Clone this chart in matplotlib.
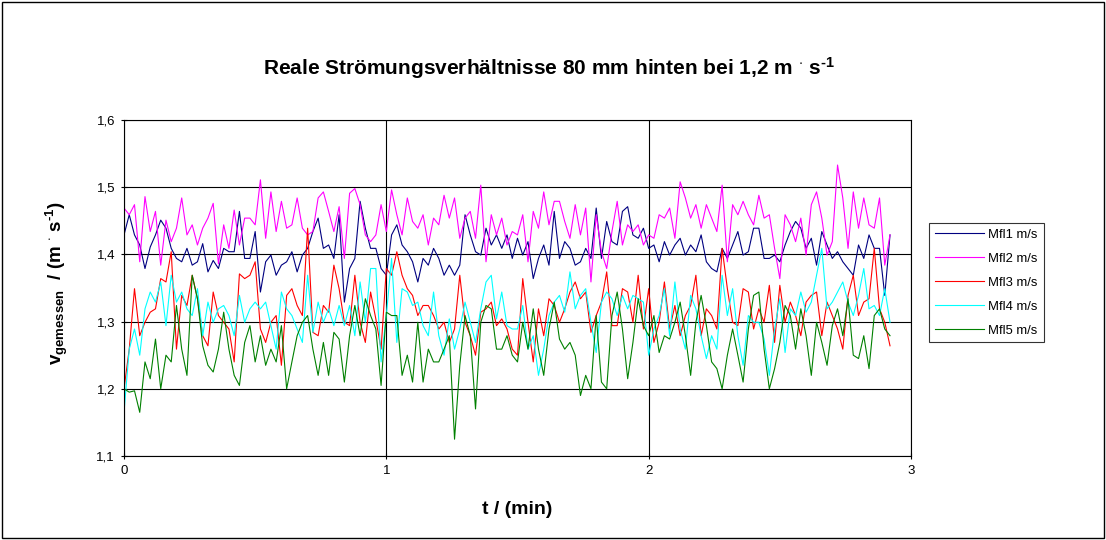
import numpy as np
import matplotlib
matplotlib.use("Agg")
import matplotlib.pyplot as plt
from matplotlib.patches import Rectangle

plt.rcParams['font.family'] = ['Liberation Sans', 'DejaVu Sans']
plt.rcParams['mathtext.fontset'] = 'custom'
plt.rcParams['mathtext.rm'] = 'Liberation Sans:bold'
plt.rcParams['mathtext.it'] = 'Liberation Sans:bold'
plt.rcParams['mathtext.bf'] = 'Liberation Sans:bold'

mfl1 = [1.429, 1.459, 1.429, 1.414, 1.379, 1.411, 1.429, 1.451, 1.439, 1.409, 1.394, 1.389, 1.409, 1.384, 1.389, 1.416, 1.374, 1.391, 1.379, 1.409, 1.404, 1.404, 1.464, 1.394,
        1.394, 1.434, 1.344, 1.389, 1.399, 1.369, 1.384, 1.389, 1.404, 1.374, 1.399, 1.409, 1.434, 1.454, 1.409, 1.414, 1.394, 1.459, 1.329, 1.379, 1.394, 1.479, 1.439, 1.409,
        1.409, 1.379, 1.369, 1.429, 1.444, 1.414, 1.404, 1.389, 1.359, 1.394, 1.384, 1.409, 1.394, 1.369, 1.384, 1.369, 1.384, 1.459, 1.429, 1.404, 1.399, 1.439, 1.414, 1.429,
        1.409, 1.429, 1.394, 1.424, 1.399, 1.419, 1.364, 1.394, 1.414, 1.384, 1.464, 1.394, 1.419, 1.409, 1.384, 1.389, 1.409, 1.394, 1.469, 1.394, 1.449, 1.419, 1.414, 1.464, 1.471,
        1.429, 1.424, 1.439, 1.409, 1.414, 1.389, 1.419, 1.399, 1.414, 1.424, 1.399, 1.414, 1.404, 1.429, 1.389, 1.379, 1.374, 1.409, 1.394, 1.414, 1.434, 1.399, 1.404, 1.439,
        1.439, 1.394, 1.394, 1.399, 1.389, 1.414, 1.434, 1.449, 1.439, 1.409, 1.424, 1.384, 1.434, 1.414, 1.394, 1.404, 1.389, 1.379, 1.369, 1.414, 1.394, 1.429, 1.409, 1.409, 1.339, 1.429]

mfl2 = [1.469, 1.459, 1.474, 1.389, 1.486, 1.434, 1.464, 1.384, 1.451, 1.419, 1.439, 1.484, 1.429, 1.444, 1.414, 1.439, 1.454, 1.476, 1.386, 1.444, 1.409, 1.466, 1.414, 1.454,
        1.454, 1.444, 1.511, 1.424, 1.493, 1.434, 1.479, 1.439, 1.444, 1.484, 1.439, 1.429, 1.434, 1.484, 1.493, 1.464, 1.434, 1.471, 1.394, 1.491, 1.498, 1.474, 1.429, 1.419,
        1.429, 1.474, 1.434, 1.496, 1.459, 1.429, 1.484, 1.449, 1.439, 1.459, 1.414, 1.454, 1.444, 1.488, 1.454, 1.484, 1.424, 1.454, 1.464, 1.424, 1.503, 1.389, 1.459, 1.429,
        1.454, 1.414, 1.434, 1.429, 1.459, 1.389, 1.464, 1.439, 1.493, 1.444, 1.479, 1.479, 1.449, 1.424, 1.474, 1.429, 1.469, 1.359, 1.459, 1.404, 1.379, 1.434, 1.479, 1.414, 1.444,
        1.434, 1.444, 1.414, 1.429, 1.424, 1.459, 1.454, 1.469, 1.424, 1.508, 1.484, 1.454, 1.474, 1.439, 1.474, 1.454, 1.434, 1.503, 1.389, 1.474, 1.459, 1.479, 1.459, 1.444,
        1.488, 1.454, 1.459, 1.409, 1.364, 1.459, 1.444, 1.419, 1.454, 1.399, 1.474, 1.493, 1.454, 1.399, 1.419, 1.533, 1.484, 1.409, 1.493, 1.439, 1.484, 1.444, 1.439, 1.484, 1.384, 1.429]

mfl3 = [1.200, 1.259, 1.349, 1.279, 1.299, 1.314, 1.319, 1.364, 1.359, 1.404, 1.259, 1.339, 1.324, 1.369, 1.334, 1.279, 1.264, 1.344, 1.309, 1.299, 1.289, 1.240, 1.371, 1.364,
        1.369, 1.389, 1.289, 1.269, 1.299, 1.309, 1.235, 1.339, 1.349, 1.324, 1.309, 1.439, 1.284, 1.279, 1.324, 1.314, 1.384, 1.349, 1.299, 1.294, 1.369, 1.299, 1.269, 1.344,
        1.304, 1.259, 1.379, 1.369, 1.404, 1.369, 1.349, 1.339, 1.309, 1.324, 1.324, 1.309, 1.289, 1.299, 1.269, 1.289, 1.369, 1.299, 1.279, 1.250, 1.314, 1.319, 1.329, 1.294,
        1.304, 1.289, 1.259, 1.250, 1.364, 1.299, 1.240, 1.319, 1.279, 1.334, 1.324, 1.299, 1.319, 1.344, 1.359, 1.334, 1.344, 1.284, 1.309, 1.329, 1.374, 1.294, 1.294, 1.349, 1.344,
        1.299, 1.369, 1.289, 1.349, 1.269, 1.299, 1.359, 1.289, 1.324, 1.279, 1.309, 1.324, 1.369, 1.279, 1.319, 1.309, 1.289, 1.409, 1.349, 1.299, 1.294, 1.349, 1.344, 1.289,
        1.319, 1.299, 1.354, 1.269, 1.354, 1.299, 1.329, 1.309, 1.279, 1.329, 1.339, 1.344, 1.279, 1.329, 1.309, 1.289, 1.259, 1.339, 1.369, 1.309, 1.329, 1.334, 1.409, 1.319, 1.299, 1.264]

mfl4 = [1.165, 1.259, 1.289, 1.250, 1.319, 1.344, 1.329, 1.359, 1.294, 1.369, 1.329, 1.344, 1.319, 1.309, 1.349, 1.279, 1.329, 1.299, 1.319, 1.324, 1.309, 1.279, 1.339, 1.299,
        1.319, 1.329, 1.319, 1.329, 1.294, 1.259, 1.344, 1.319, 1.309, 1.289, 1.269, 1.369, 1.284, 1.329, 1.299, 1.319, 1.294, 1.324, 1.294, 1.324, 1.279, 1.359, 1.299, 1.379,
        1.379, 1.240, 1.309, 1.394, 1.269, 1.349, 1.344, 1.324, 1.329, 1.294, 1.279, 1.344, 1.279, 1.250, 1.304, 1.259, 1.289, 1.329, 1.299, 1.269, 1.319, 1.359, 1.369, 1.304,
        1.344, 1.294, 1.289, 1.289, 1.324, 1.259, 1.279, 1.220, 1.259, 1.309, 1.329, 1.339, 1.314, 1.374, 1.319, 1.339, 1.349, 1.299, 1.254, 1.329, 1.344, 1.334, 1.309, 1.339, 1.319,
        1.339, 1.334, 1.329, 1.250, 1.289, 1.309, 1.349, 1.279, 1.359, 1.289, 1.259, 1.339, 1.319, 1.279, 1.245, 1.279, 1.259, 1.369, 1.309, 1.349, 1.279, 1.235, 1.309, 1.299,
        1.299, 1.274, 1.220, 1.289, 1.334, 1.254, 1.319, 1.309, 1.344, 1.314, 1.329, 1.369, 1.409, 1.319, 1.329, 1.344, 1.359, 1.329, 1.309, 1.339, 1.379, 1.319, 1.324, 1.309, 1.349, 1.299]

mfl5 = [1.200, 1.195, 1.197, 1.165, 1.240, 1.215, 1.274, 1.200, 1.250, 1.240, 1.324, 1.259, 1.220, 1.369, 1.334, 1.264, 1.235, 1.225, 1.259, 1.314, 1.259, 1.220, 1.205, 1.269,
        1.294, 1.240, 1.279, 1.235, 1.259, 1.240, 1.294, 1.200, 1.240, 1.279, 1.299, 1.309, 1.259, 1.220, 1.269, 1.220, 1.284, 1.274, 1.210, 1.279, 1.324, 1.279, 1.334, 1.309,
        1.289, 1.205, 1.314, 1.309, 1.309, 1.220, 1.250, 1.210, 1.299, 1.210, 1.259, 1.240, 1.240, 1.259, 1.279, 1.125, 1.235, 1.309, 1.279, 1.170, 1.299, 1.324, 1.319, 1.259,
        1.259, 1.279, 1.250, 1.240, 1.299, 1.259, 1.319, 1.259, 1.220, 1.289, 1.329, 1.274, 1.259, 1.269, 1.250, 1.190, 1.220, 1.200, 1.309, 1.210, 1.200, 1.309, 1.344, 1.289, 1.215,
        1.269, 1.334, 1.294, 1.279, 1.309, 1.254, 1.279, 1.274, 1.299, 1.329, 1.279, 1.220, 1.299, 1.339, 1.294, 1.240, 1.230, 1.200, 1.250, 1.289, 1.250, 1.210, 1.289, 1.339,
        1.344, 1.259, 1.200, 1.230, 1.269, 1.324, 1.309, 1.259, 1.319, 1.279, 1.220, 1.299, 1.269, 1.235, 1.294, 1.319, 1.279, 1.334, 1.250, 1.245, 1.279, 1.230, 1.309, 1.319, 1.289, 1.279]

reihen = [mfl1, mfl2, mfl3, mfl4, mfl5]
namen = ["Mfl1 m/s", "Mfl2 m/s", "Mfl3 m/s", "Mfl4 m/s", "Mfl5 m/s"]
farben = ["#000080", "#FF00FF", "#FF0000", "#00FFFF", "#008000"]

yticks = [1.1, 1.2, 1.3, 1.4, 1.5, 1.6]
ytick_labels = ["1,1", "1,2", "1,3", "1,4", "1,5", "1,6"]
xticks = [0, 1, 2, 3]

fig = plt.figure(figsize=(11.06, 5.40), dpi=100)
ax = fig.add_axes([124 / 1106, 1 - 456 / 540, (911 - 124) / 1106, (456 - 120) / 540])

for werte, name, farbe in zip(reihen, namen, farben):
    t = np.arange(len(werte)) * 0.02
    ax.plot(t, werte, color=farbe, lw=0.8, label=name)

ax.set_xlim(0, 3)
ax.set_ylim(1.1, 1.6)
ax.set_xticks(xticks)
ax.set_xticklabels([str(x) for x in xticks])
ax.set_yticks(yticks)
ax.set_yticklabels(ytick_labels)
ax.tick_params(direction="inout", length=5, width=0.8, labelsize=9.5, pad=4)
ax.grid(True, color="black", lw=0.8)
for s in ax.spines.values():
    s.set_linewidth(0.8)

ax.set_xlabel("t / (min)", fontsize=14, fontweight="bold")
ax.xaxis.set_label_coords(0.5, -0.135)
ax.set_ylabel(r"v$_{\rm gemessen}$  / (m $^{\cdot}$ s$^{\text{-1}}$)", fontsize=13.5, fontweight="bold")
ax.yaxis.set_label_coords(-0.069, 0.515)

fig.text(549 / 1106, 1 - 68 / 540, r"Reale Strömungsverhältnisse 80 mm hinten bei 1,2 m $^{\cdot}$ s$^{\text{-1}}$",
         ha="center", va="center", fontsize=15, fontweight="bold")

leg = ax.legend(loc="upper left", bbox_to_anchor=(929 / 1106, 1 - 223 / 540), bbox_transform=fig.transFigure,
                fontsize=9.4, frameon=True, fancybox=False, edgecolor="black", handlelength=3.8,
                labelspacing=0.9, borderpad=0.45, handletextpad=0.3, borderaxespad=0)
leg.get_frame().set_linewidth(0.8)

fig.patches.append(Rectangle((0.002, 0.003), 0.996, 0.994, transform=fig.transFigure,
                             fill=False, edgecolor="black", lw=1))

fig.savefig("out.png", dpi=100)
